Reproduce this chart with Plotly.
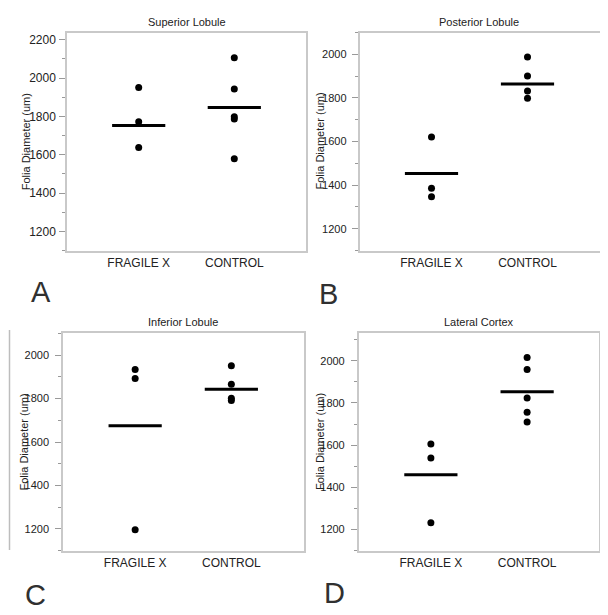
import plotly.graph_objects as go

groups = ["FRAGILE X", "CONTROL"]

titles = ["Superior Lobule", "Posterior Lobule", "Inferior Lobule", "Lateral Cortex"]
letters = ["A", "B", "C", "D"]

superior_fx = [1950, 1772, 1638]
superior_ctrl = [2106, 1943, 1798, 1786, 1579]
superior_means = [1752, 1846]

posterior_fx = [1621, 1386, 1346]
posterior_ctrl = [1988, 1901, 1832, 1798]
posterior_means = [1453, 1864]

inferior_fx = [1934, 1892, 1196]
inferior_ctrl = [1951, 1866, 1801, 1791]
inferior_means = [1675, 1843]

lateral_fx = [1606, 1539, 1232]
lateral_ctrl = [2015, 1959, 1823, 1756, 1710]
lateral_means = [1460, 1853]

y_ranges = [[1100, 2235], [1100, 2100], [1100, 2100], [1100, 2130]]
y_ticks = [1200, 1400, 1600, 1800, 2000, 2200]

panels = [
    (superior_fx, superior_ctrl, superior_means),
    (posterior_fx, posterior_ctrl, posterior_means),
    (inferior_fx, inferior_ctrl, inferior_means),
    (lateral_fx, lateral_ctrl, lateral_means),
]

W, H = 608, 615
# plot boxes in pixels: (left, right, top, bottom)
boxes = [(59, 298, 25, 242.5), (351.5, 591.5, 24.5, 242.5),
         (55, 295.5, 325.3, 542.7), (350.7, 591.3, 325.3, 542.7)]
ytick_sizes = [12, 11, 11, 11]
ytick_standoff = [1, 3, 4, 4]

FONT = "Liberation Sans, Arial, Helvetica, sans-serif"
TXT = "#222222"
BOX = "#c9c9c9"

fig = go.Figure()
annotations = []
for i, ((fx, ctrl, means), box) in enumerate(zip(panels, boxes)):
    sfx = "" if i == 0 else str(i + 1)
    xa, ya = "x" + sfx, "y" + sfx
    l, r, t, b = box
    fig.add_trace(go.Scatter(
        x=[groups[0]] * len(fx) + [groups[1]] * len(ctrl), y=fx + ctrl,
        mode="markers", marker=dict(color="black", size=7),
        xaxis=xa, yaxis=ya, showlegend=False, hoverinfo="y"))
    fig.add_trace(go.Scatter(
        x=groups, y=means, mode="markers",
        marker=dict(symbol="line-ew-open", size=38, color="black",
                    line=dict(color="black", width=3)),
        xaxis=xa, yaxis=ya, showlegend=False, hoverinfo="y"))
    axis_common = dict(showline=True, mirror=True, linecolor=BOX, linewidth=1.5,
                       showgrid=False, zeroline=False)
    fig.update_layout(**{
        ("xaxis" + sfx): dict(axis_common, domain=[l / W, r / W], anchor=ya,
                               type="category", categoryorder="array",
                               categoryarray=groups, range=[-0.75, 1.75],
                               ticks="", ticklen=0,
                               tickfont=dict(family=FONT, size=12, color=TXT)),
        ("yaxis" + sfx): dict(axis_common, domain=[1 - b / H, 1 - t / H], anchor=xa,
                               range=y_ranges[i], tickvals=y_ticks,
                               ticks="outside", ticklen=6, tickcolor="#999999",
                               tickwidth=1, ticklabelstandoff=ytick_standoff[i],
                               tickfont=dict(family=FONT, size=ytick_sizes[i], color=TXT),
                               minor=dict(dtick=100, tick0=1100, ticks="outside",
                                          ticklen=3, tickcolor="#999999",
                                          tickwidth=1)),
    })
    # subplot title
    annotations.append(dict(text=titles[i], x=(l + r) / 2 / W, y=1 - (t - 11) / H,
                            xref="paper", yref="paper", showarrow=False,
                            xanchor="center", yanchor="middle",
                            font=dict(family=FONT, size=11, color=TXT)))
    # y axis title
    ytx = [17.5, 312, 15.5, 312][i]
    annotations.append(dict(text="Folia Diameter (um)", x=ytx / W, y=1 - (t + b) / 2 / H,
                            xref="paper", yref="paper", showarrow=False, textangle=-90,
                            xanchor="center", yanchor="middle",
                            font=dict(family=FONT, size=11, color=TXT)))

# panel letters
letter_pos = [(33, 284), (320, 286), (27, 587), (326, 585)]
for ltr, (px, py) in zip(letters, letter_pos):
    annotations.append(dict(text=ltr, x=px / W, y=1 - py / H, xref="paper", yref="paper",
                            showarrow=False, xanchor="center", yanchor="middle",
                            font=dict(family=FONT, size=29, color="#303030")))

fig.update_layout(
    width=W, height=H, margin=dict(l=0, r=0, t=0, b=0),
    paper_bgcolor="white", plot_bgcolor="white",
    annotations=annotations,
    shapes=[dict(type="line", xref="paper", yref="paper",
                 x0=1.5 / W, x1=1.5 / W, y0=1 - 542 / H, y1=1 - 322 / H,
                 line=dict(color="#bdbdbd", width=1.5))],
)

fig.write_html("out.html")
